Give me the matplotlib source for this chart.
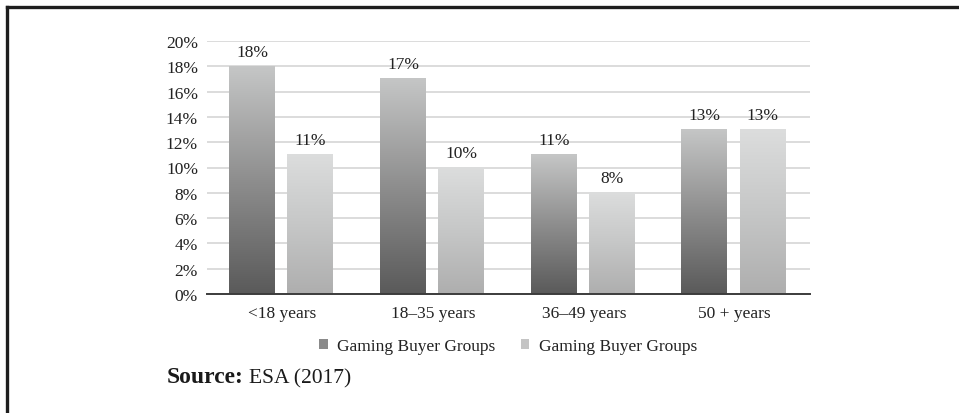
import numpy as np
import matplotlib
matplotlib.use("Agg")
import matplotlib.pyplot as plt
from matplotlib.colors import LinearSegmentedColormap
from matplotlib.patches import Patch
from matplotlib.lines import Line2D

categories = ["<18 years", "18\u201335 years", "36\u201349 years", "50 + years"]
series_a = [18, 17, 11, 13]
series_b = [11, 10, 8, 13]
series_names = ["Gaming Buyer Groups", "Gaming Buyer Groups"]
yticks = [0, 2, 4, 6, 8, 10, 12, 14, 16, 18, 20]

plt.rcParams["font.family"] = ["Liberation Serif", "DejaVu Serif"]

W, H = 959, 414
fig = plt.figure(figsize=(W / 100, H / 100), dpi=100)
fig.patch.set_facecolor("white")

def fx(px):
    return px / W

def fy(py):
    return 1 - py / H

FS = 12.5

ax = fig.add_axes([fx(207), fy(295), fx(810) - fx(207), fy(42) - fy(295)])
ax.set_xlim(-0.5, len(categories) - 0.5)
ax.set_ylim(0, 20)

cmap_a = LinearSegmentedColormap.from_list("ga", ["#5a5a5a", "#8e8e8e", "#c5c6c6"])
cmap_b = LinearSegmentedColormap.from_list("gb", ["#aeaeae", "#c6c7c7", "#dcdddd"])
grad = np.linspace(0, 1, 256).reshape(-1, 1)

width = 0.305
offsets = [-0.2, 0.185]

for series, off, cmap in [(series_a, offsets[0], cmap_a), (series_b, offsets[1], cmap_b)]:
    x = np.arange(len(categories)) + off
    bars = ax.bar(x, series, width=width, color="none", edgecolor="none", zorder=3)
    for b, v in zip(bars, series):
        x0 = b.get_x()
        ax.imshow(grad, cmap=cmap, origin="lower", aspect="auto",
                  extent=(x0, x0 + b.get_width(), 0, v), zorder=2.5,
                  interpolation="bilinear")
        ax.text(x0 + b.get_width() / 2, v + 1.15, f"{v}%", ha="center", va="center",
                fontsize=FS, color="#222222")

ax.set_xlim(-0.5, len(categories) - 0.5)
ax.set_ylim(0, 20)

ax.set_yticks(yticks)
ax.set_yticklabels([f"{t}%" for t in yticks], fontsize=FS, color="#222222")
ax.set_xticks(range(len(categories)))
ax.set_xticklabels(categories, fontsize=FS, color="#222222")
ax.tick_params(axis="both", length=0)
ax.tick_params(axis="y", pad=6.5)
ax.tick_params(axis="x", pad=8)

ax.yaxis.grid(True, color="#dcdcdc", linewidth=1.4, zorder=0)
ax.set_axisbelow(True)
for s in ["top", "right", "left"]:
    ax.spines[s].set_visible(False)
ax.spines["bottom"].set_color("#3c3c3c")
ax.spines["bottom"].set_linewidth(1.4)
ax.spines["bottom"].set_zorder(4)

handles = [Patch(facecolor="#8a8a8a", edgecolor="none"),
           Patch(facecolor="#c4c4c4", edgecolor="none")]
fig.legend(handles, series_names, loc="center", bbox_to_anchor=(fx(508), fy(347)),
           ncol=2, frameon=False, fontsize=FS, handlelength=0.5, handleheight=0.5,
           handletextpad=0.55, columnspacing=1.45, labelcolor="#222222")

src = fig.text(fx(167), fy(383), "Source:", fontsize=17, fontweight="bold",
               color="#1a1a1a", va="baseline", ha="left")
fig.canvas.draw()
bb = src.get_window_extent(fig.canvas.get_renderer())
fig.text(fx(bb.x1 + 5), fy(383), "ESA (2017)", fontsize=15.5, color="#1a1a1a",
         va="baseline", ha="left")

# Frame lines along the top and left edges
fig.add_artist(Line2D([fx(6.5), 1], [fy(7.5), fy(7.5)], color="#1e1e1e", linewidth=2.4,
                      transform=fig.transFigure))
fig.add_artist(Line2D([fx(6.5), fx(6.5)], [fy(7.5), 0], color="#1e1e1e", linewidth=2.4,
                      transform=fig.transFigure))

fig.savefig("out.png", dpi=100, facecolor="white")
